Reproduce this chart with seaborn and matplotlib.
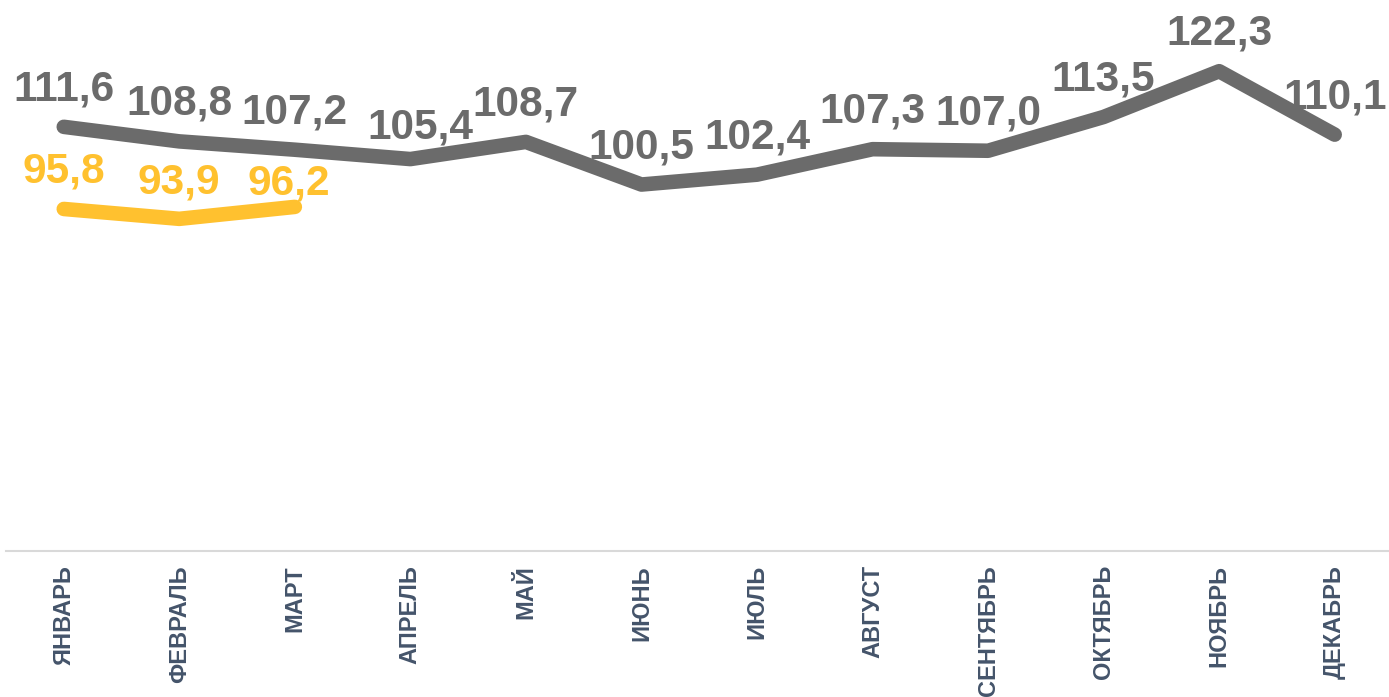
import numpy as np
import pandas as pd
import seaborn as sns
import matplotlib.pyplot as plt

# Monthly values (previous year in gray, current year in yellow)
months = ["ЯНВАРЬ", "ФЕВРАЛЬ", "МАРТ", "АПРЕЛЬ", "МАЙ", "ИЮНЬ",
          "ИЮЛЬ", "АВГУСТ", "СЕНТЯБРЬ", "ОКТЯБРЬ", "НОЯБРЬ", "ДЕКАБРЬ"]
prev_year = [111.6, 108.8, 107.2, 105.4, 108.7, 100.5,
             102.4, 107.3, 107.0, 113.5, 122.3, 110.1]
curr_year = [95.8, 93.9, 96.2]

# label offsets in points (dx, dy) - labels were nudged by hand in the original
prev_offsets = [(0, 19)] * 12
prev_offsets[3] = (7, 15)
curr_offsets = [(0, 19), (0, 18), (-4, 9)]

gray = "#6B6B6B"
yellow = "#FFC12F"
tick_color = "#44546A"

sns.set_theme(style="white")
plt.rcParams["font.family"] = ["Liberation Sans", "DejaVu Sans"]

df_prev = pd.DataFrame({"pos": np.arange(len(prev_year)), "value": prev_year})
df_curr = pd.DataFrame({"pos": np.arange(len(curr_year)), "value": curr_year})

fig = plt.figure(figsize=(13.89, 6.97), dpi=100)
ax = fig.add_axes([6 / 1389, 1 - 551 / 697, 1 - 6 / 1389, 551 / 697])

sns.lineplot(data=df_prev, x="pos", y="value", color=gray, linewidth=10.5,
             solid_capstyle="round", solid_joinstyle="round", ax=ax)
sns.lineplot(data=df_curr, x="pos", y="value", color=yellow, linewidth=10.5,
             solid_capstyle="round", solid_joinstyle="round", ax=ax)

# data labels
for (x, v), off in zip(zip(df_prev["pos"], df_prev["value"]), prev_offsets):
    ax.annotate(f"{v:.1f}".replace(".", ","), (x, v), xytext=off,
                textcoords="offset points", ha="center", va="baseline",
                fontsize=30.5, fontweight="bold", color=gray)
for (x, v), off in zip(zip(df_curr["pos"], df_curr["value"]), curr_offsets):
    ax.annotate(f"{v:.1f}".replace(".", ","), (x, v), xytext=off,
                textcoords="offset points", ha="center", va="baseline",
                fontsize=30.5, fontweight="bold", color=yellow)

ax.set_xlim(-0.5, 11.47)
ax.set_ylim(30, 136)
ax.set_xticks(np.arange(len(months)))
ax.set_xticklabels(months, rotation=90, fontsize=17, fontweight="bold",
                   color=tick_color)
ax.tick_params(axis="x", length=0, pad=10)
ax.set_yticks([])
ax.set_xlabel("")
ax.set_ylabel("")
for side in ["top", "left", "right"]:
    ax.spines[side].set_visible(False)
ax.spines["bottom"].set_color("#D9D9D9")
ax.spines["bottom"].set_linewidth(1.5)

fig.savefig("out.png", dpi=100)
